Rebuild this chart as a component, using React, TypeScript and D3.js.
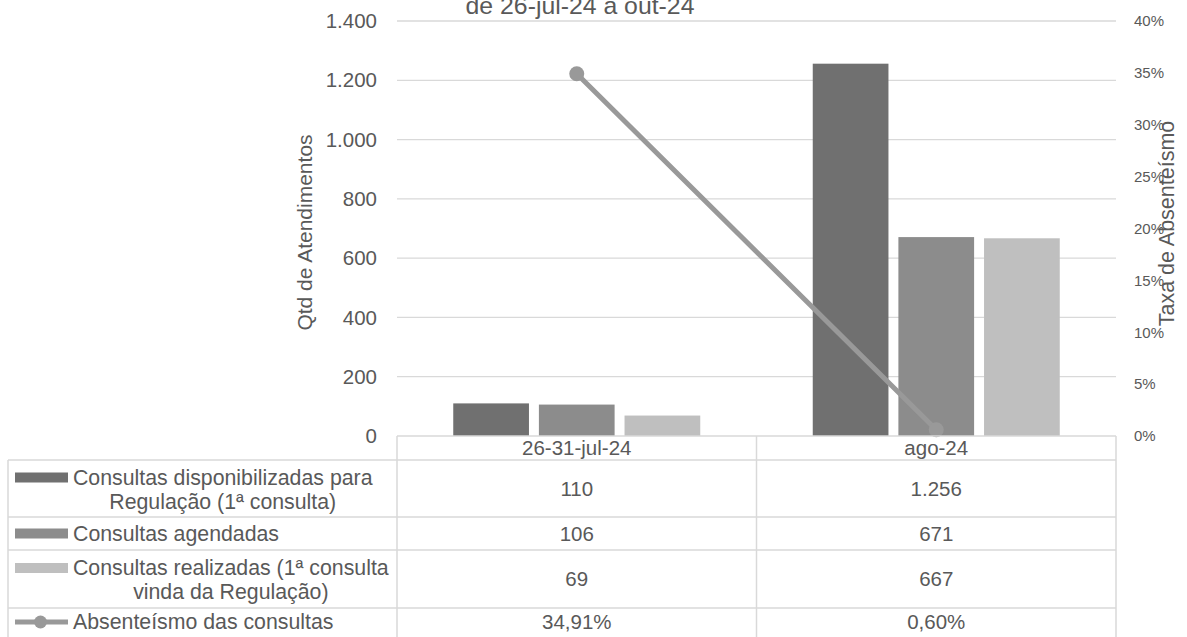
import React from "react";
import * as d3 from "d3";

const categories = ["26-31-jul-24", "ago-24"];
const disponibilizadas = [110, 1256];
const agendadas = [106, 671];
const realizadas = [69, 667];
const absenteismo = [0.3491, 0.006];
const leftTicks = [0, 200, 400, 600, 800, 1000, 1200, 1400];
const rightTicks = [0, 0.05, 0.1, 0.15, 0.2, 0.25, 0.3, 0.35, 0.4];
const barSeries = [
  { key: "disp", lines: ["Consultas disponibilizadas para", "Regulação (1ª consulta)"], values: disponibilizadas, color: "#707070" },
  { key: "agend", lines: ["Consultas agendadas"], values: agendadas, color: "#8c8c8c" },
  { key: "real", lines: ["Consultas realizadas (1ª consulta", "vinda da Regulação)"], values: realizadas, color: "#bfbfbf" },
];
const lineSeries = { lines: ["Absenteísmo das consultas"], values: absenteismo, color: "#999999" };
const titleText = "de 26-jul-24 a out-24";
const leftAxisTitle = "Qtd de Atendimentos";
const rightAxisTitle = "Taxa de Absenteísmo";

const W = 1187;
const H = 637;
const FONT = "'Liberation Sans', Arial, sans-serif";
const TXT = "#595959";
const GRID = "#d9d9d9";

const loc = d3.formatLocale({ decimal: ",", thousands: ".", grouping: [3], currency: ["R$", ""] });
const fmtInt = loc.format(",.0f");
const fmtPct0 = loc.format(".0%");
const fmtPct2 = loc.format(".2%");

let measureCtx: CanvasRenderingContext2D | null = null;
function textWidth(s: string, size: number): number {
  if (!measureCtx) {
    const c = document.createElement("canvas");
    measureCtx = c.getContext("2d");
  }
  if (!measureCtx) return s.length * size * 0.5;
  measureCtx.font = `${size}px 'Liberation Sans', Arial, sans-serif`;
  return measureCtx.measureText(s).width;
}

export default function App() {
  const plotL = 397, plotR = 1116, plotT = 21, plotB = 436;
  const y = d3.scaleLinear().domain([0, 1400]).range([plotB, plotT]);
  const y2 = d3.scaleLinear().domain([0, 0.4]).range([plotB, plotT]);
  const x = d3.scaleBand<string>().domain(categories).range([plotL, plotR]).padding(0);
  const xs = d3.scaleBand<string>().domain(barSeries.map(s => s.key)).range([-123.5, 123.5]).paddingInner(0.116).paddingOuter(0);
  const cx = (c: string) => (x(c) as number) + x.bandwidth() / 2;

  const lineGen = d3.line<number>().x((_, i) => cx(categories[i])).y(v => y2(v));

  const tableLeft = 8;
  const headerTop = plotB, headerBot = 460;
  const rowBounds = [460, 517, 550, 608, 660];
  const legendKeyX0 = 15, legendKeyX1 = 68, legendTextX = 73;
  const lineH = 24;
  const legFont = 21.3;

  const allRows = [
    ...barSeries.map(s => ({ lines: s.lines, values: s.values.map(fmtInt), kind: "bar", color: s.color })),
    { lines: lineSeries.lines, values: lineSeries.values.map(fmtPct2), kind: "line", color: lineSeries.color },
  ];

  return (
    <svg width={W} height={H} style={{ position: "absolute", left: 0, top: 0, background: "#fff" }} fontFamily={FONT}>
      {leftTicks.filter(t => t > 0).map(t => (
        <line key={"g" + t} x1={plotL} x2={plotR} y1={y(t)} y2={y(t)} stroke={GRID} strokeWidth={1.3} />
      ))}
      {leftTicks.map(t => (
        <text key={"lt" + t} x={377} y={y(t)} dy="0.35em" textAnchor="end" fontSize={20.5} fill={TXT}>{fmtInt(t)}</text>
      ))}
      {rightTicks.map(t => (
        <text key={"rt" + t} x={1134} y={y2(t)} dy="0.35em" textAnchor="start" fontSize={15} fill={TXT}>{fmtPct0(t)}</text>
      ))}
      <text transform={`translate(305,${(plotT + plotB) / 2 + 4}) rotate(-90)`} textAnchor="middle" dy="0.35em" fontSize={21} fill={TXT}>{leftAxisTitle}</text>
      <text transform={`translate(1166,${(plotT + plotB) / 2 - 5}) rotate(-90)`} textAnchor="middle" dy="0.35em" fontSize={21.5} fill={TXT}>{rightAxisTitle}</text>
      <text x={580} y={14} textAnchor="middle" fontSize={24.8} fill={TXT}>{titleText}</text>

      {barSeries.map(s => s.values.map((v, i) => {
        const bx = cx(categories[i]) + (xs(s.key) as number);
        return <rect key={s.key + i} x={bx} y={y(v)} width={xs.bandwidth()} height={y(0) - y(v)} fill={s.color} />;
      }))}

      <path d={lineGen(lineSeries.values) || ""} fill="none" stroke={lineSeries.color} strokeWidth={5} strokeLinecap="round" />
      {lineSeries.values.map((v, i) => (
        <circle key={"m" + i} cx={cx(categories[i])} cy={y2(v)} r={7.5} fill={lineSeries.color} />
      ))}

      <g stroke={GRID} strokeWidth={1.5} fill="none">
        <line x1={plotL} x2={plotR} y1={headerTop} y2={headerTop} />
        {rowBounds.slice(0, 4).map(b => <line key={"rb" + b} x1={tableLeft} x2={plotR} y1={b} y2={b} />)}
        <line x1={tableLeft} x2={tableLeft} y1={headerBot} y2={H + 10} />
        <line x1={plotL} x2={plotL} y1={headerTop} y2={H + 10} />
        <line x1={(x(categories[1]) as number)} x2={(x(categories[1]) as number)} y1={headerTop} y2={H + 10} />
        <line x1={plotR} x2={plotR} y1={headerTop} y2={H + 10} />
      </g>

      {categories.map(c => (
        <text key={"h" + c} x={cx(c)} y={(headerTop + headerBot) / 2} dy="0.35em" textAnchor="middle" fontSize={20.5} fill={TXT}>{c}</text>
      ))}

      {allRows.map((r, ri) => {
        const top = rowBounds[ri], bot = ri === 3 ? 637 : rowBounds[ri + 1];
        const mid = ri === 3 ? 622 : (top + bot) / 2;
        const n = r.lines.length;
        const firstY = mid - ((n - 1) * lineH) / 2 + (n > 1 ? 1 : 0);
        const maxW = Math.max(...r.lines.map(l => textWidth(l, legFont)));
        const blockCenter = legendTextX + maxW / 2;
        return (
          <g key={"row" + ri}>
            {r.kind === "bar" ? (
              <rect x={legendKeyX0} y={firstY - 5} width={legendKeyX1 - legendKeyX0} height={10} fill={r.color} />
            ) : (
              <g>
                <line x1={legendKeyX0} x2={legendKeyX1} y1={firstY} y2={firstY} stroke={r.color} strokeWidth={5} />
                <circle cx={(legendKeyX0 + legendKeyX1) / 2 - 1} cy={firstY} r={6.5} fill={r.color} />
              </g>
            )}
            {r.lines.map((ln, li) => (
              <text key={li} x={n > 1 ? blockCenter : legendTextX} y={firstY + li * lineH} dy="0.35em"
                textAnchor={n > 1 ? "middle" : "start"} fontSize={legFont} fill={TXT}>{ln}</text>
            ))}
            {r.values.map((v, ci) => (
              <text key={"v" + ci} x={cx(categories[ci])} y={mid} dy="0.35em" textAnchor="middle" fontSize={20.5} fill={TXT}>{v}</text>
            ))}
          </g>
        );
      })}
    </svg>
  );
}
